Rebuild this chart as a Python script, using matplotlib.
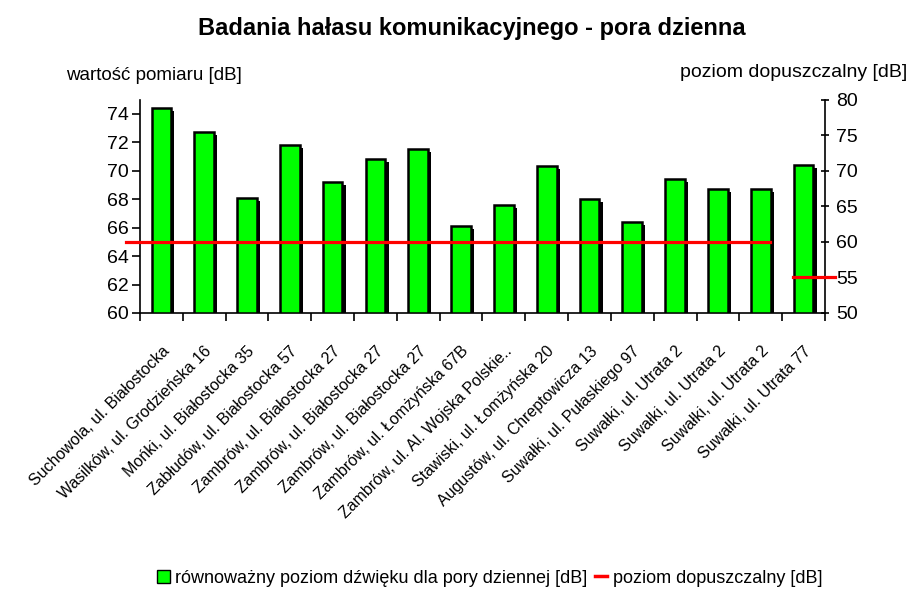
import matplotlib.pyplot as plt
import numpy as np

plt.rcParams['font.family'] = ['Liberation Sans', 'DejaVu Sans']

locations = [
    'Suchowola, ul. Białostocka',
    'Wasilków, ul. Grodzieńska 16',
    'Mońki, ul. Białostocka 35',
    'Zabłudów, ul. Białostocka 57',
    'Zambrów, ul. Białostocka 27',
    'Zambrów, ul. Białostocka 27',
    'Zambrów, ul. Białostocka 27',
    'Zambrów, ul. Łomżyńska 67B',
    'Zambrów, ul. Al. Wojska Polskie..',
    'Stawiski, ul. Łomżyńska 20',
    'Augustów, ul. Chreptowicza 13',
    'Suwałki, ul. Pułaskiego 97',
    'Suwałki, ul. Utrata 2',
    'Suwałki, ul. Utrata 2',
    'Suwałki, ul. Utrata 2',
    'Suwałki, ul. Utrata 77',
]
measured = [74.4, 72.7, 68.1, 71.8, 69.2, 70.8, 71.5, 66.1,
            67.6, 70.3, 68.0, 66.4, 69.4, 68.7, 68.7, 70.4]

# permitted level (right axis) and the category span each part covers
limit_values = [60, 55]
limit_start = [-0.83, 14.76]
limit_end = [14.22, 15.74]

fig = plt.figure(figsize=(9.1, 5.98), dpi=100)
ax = fig.add_axes([0.1538, 0.4766, 0.7528, 0.357])
x = np.arange(len(measured))
w = 0.46

# shadow then bars
ax.bar(x + 0.075, np.array(measured) - 60.2, w, bottom=60, color='black', zorder=2)
ax.bar(x, np.array(measured) - 60, w, bottom=60, color='#00ff00',
       edgecolor='black', linewidth=1.8, zorder=3)

ax.set_xlim(-0.5, len(measured) - 0.5)
ax.set_ylim(60, 75)
ax.set_yticks(range(60, 75, 2))
ax.set_xticks(np.arange(len(measured) + 1) - 0.5)
ax.set_xticklabels([])
ax.set_xticks(x, minor=True)
ax.set_xticklabels(locations, minor=True, rotation=45, ha='right',
                   rotation_mode='anchor', fontsize=11.5)
ax.tick_params(axis='x', which='minor', length=0, pad=22)
ax.tick_params(axis='x', which='major', length=6, width=1.2, direction='out')
ax.tick_params(axis='y', length=6, width=1.2, labelsize=14, pad=2)
ax.spines['top'].set_visible(False)
ax.spines['right'].set_visible(False)
for s in ['left', 'bottom']:
    ax.spines[s].set_linewidth(1.2)

ax2 = ax.twinx()
ax2.set_ylim(50, 80)
ax2.set_yticks(range(50, 81, 5))
ax2.tick_params(axis='y', length=6, width=1.2, labelsize=14, direction='inout', pad=5)
for s in ['top', 'left', 'bottom']:
    ax2.spines[s].set_visible(False)
ax2.spines['right'].set_linewidth(1.2)
for v, a, b in zip(limit_values, limit_start, limit_end):
    ax2.plot([a, b], [v, v], color='#ff0000', linewidth=2.3, clip_on=False, zorder=4)

fig.text(0.519, 0.953, 'Badania hałasu komunikacyjnego - pora dzienna',
         ha='center', va='center', fontsize=17, fontweight='bold')
fig.text(0.073, 0.873, 'wartość pomiaru [dB]', ha='left', va='center', fontsize=13.5)
fig.text(0.997, 0.879, 'poziom dopuszczalny [dB]', ha='right', va='center', fontsize=14)

handles = [plt.Rectangle((0, 0), 1, 1, facecolor='#00ff00', edgecolor='black', linewidth=1),
           plt.Line2D([0], [0], color='#ff0000', linewidth=2.5)]
fig.legend(handles, ['równoważny poziom dźwięku dla pory dziennej [dB]',
                     'poziom dopuszczalny [dB]'],
           loc='center', bbox_to_anchor=(0.538, 0.033), ncol=2, frameon=False,
           fontsize=13, handlelength=0.7, handleheight=0.7, handletextpad=0.3,
           columnspacing=0.4)

fig.savefig('out.png', dpi=100)
